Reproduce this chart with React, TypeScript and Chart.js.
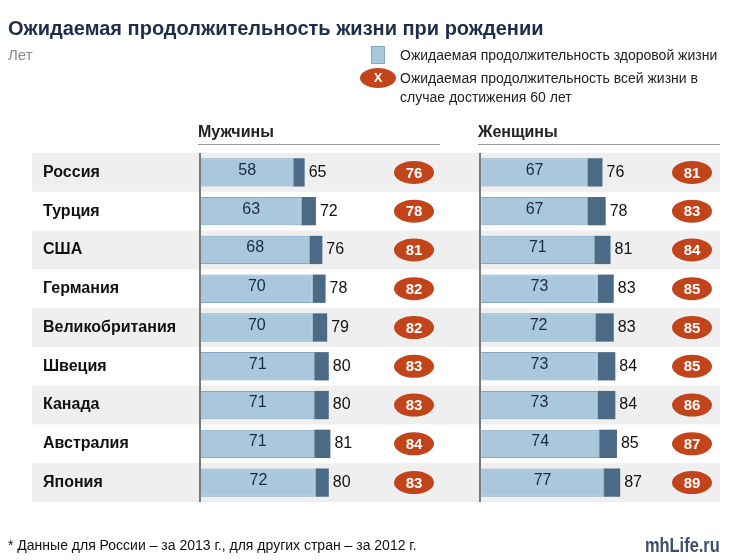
import React, { useEffect, useRef } from "react";
import { Chart, registerables } from "chart.js";
Chart.register(...registerables);

const countries = ["Россия", "Турция", "США", "Германия", "Великобритания", "Швеция", "Канада", "Австралия", "Япония"];
const menHealthy = [58, 63, 68, 70, 70, 71, 71, 71, 72];
const menTotal = [65, 72, 76, 78, 79, 80, 80, 81, 80];
const menAt60 = [76, 78, 81, 82, 82, 83, 83, 84, 83];
const womenHealthy = [67, 67, 71, 73, 72, 73, 73, 74, 77];
const womenTotal = [76, 78, 81, 83, 83, 84, 84, 85, 87];
const womenAt60 = [81, 83, 84, 85, 85, 85, 86, 87, 89];

const FONT = '"Liberation Sans", Arial, sans-serif';
const LIGHT = "#a9c8de";
const LIGHT_BORDER = "#86a8c2";
const DARK = "#4a6a85";
const BADGE = "#c2441b";
const BAND = "#efefef";

function ellipseBadge(ctx: CanvasRenderingContext2D, x: number, y: number, rx: number, ry: number, text: string, size: number) {
  ctx.save();
  ctx.beginPath();
  ctx.ellipse(x, y, rx, ry, 0, 0, Math.PI * 2);
  ctx.fillStyle = BADGE;
  ctx.fill();
  ctx.fillStyle = "#ffffff";
  ctx.font = `bold ${size}px ${FONT}`;
  ctx.textAlign = "center";
  ctx.textBaseline = "middle";
  ctx.fillText(text, x, y + 1);
  ctx.restore();
}

const decorPlugin = {
  id: "decor",
  beforeDraw(chart: any) {
    const ctx = chart.ctx as CanvasRenderingContext2D;
    const y = chart.scales.y;
    const step = y.getPixelForValue(1) - y.getPixelForValue(0);
    ctx.save();
    ctx.fillStyle = BAND;
    countries.forEach((_, i) => {
      if (i % 2 === 0) {
        const c = y.getPixelForValue(i);
        ctx.fillRect(32, c - step / 2, 688, step);
      }
    });
    ctx.restore();
  },
  afterDatasetsDraw(chart: any) {
    const ctx = chart.ctx as CanvasRenderingContext2D;
    ctx.save();
    ctx.textBaseline = "middle";
    const groups = [
      { healthy: 0, rest: 1, healthyVals: menHealthy, totals: menTotal, at60: menAt60, badgeX: 414 },
      { healthy: 2, rest: 3, healthyVals: womenHealthy, totals: womenTotal, at60: womenAt60, badgeX: 692 },
    ];
    groups.forEach((g) => {
      const mh = chart.getDatasetMeta(g.healthy);
      const mr = chart.getDatasetMeta(g.rest);
      mh.data.forEach((el: any, i: number) => {
        const p = el.getProps(["x", "y", "base"], true);
        ctx.font = `16px ${FONT}`;
        ctx.fillStyle = "#1b2a3c";
        ctx.textAlign = "center";
        ctx.fillText(String(g.healthyVals[i]), (p.x + p.base) / 2, p.y - 2);
        const r = mr.data[i].getProps(["x", "y"], true);
        ctx.fillStyle = "#111111";
        ctx.textAlign = "left";
        ctx.fillText(String(g.totals[i]), r.x + 4, r.y);
        ellipseBadge(ctx, g.badgeX, p.y, 20, 11.5, String(g.at60[i]), 15);
      });
    });
    ctx.restore();
  },
};

const axisColor = (c: any) => (c.tick && c.tick.value === 0 ? "#7a7a7a" : "rgba(0,0,0,0)");

export default function App() {
  const ref = useRef<HTMLCanvasElement | null>(null);
  useEffect(() => {
    if (!ref.current) return;
    const menRest = menTotal.map((t, i) => t - menHealthy[i]);
    const womenRest = womenTotal.map((t, i) => t - womenHealthy[i]);
    const chart = new Chart(ref.current, {
      type: "bar",
      data: {
        labels: countries,
        datasets: [
          { data: menHealthy, xAxisID: "xM", stack: "all", backgroundColor: LIGHT, borderColor: LIGHT_BORDER, borderWidth: 1, borderSkipped: "start" },
          { data: menRest, xAxisID: "xM", stack: "all", backgroundColor: DARK, borderWidth: 0 },
          { data: womenHealthy, xAxisID: "xW", stack: "all", backgroundColor: LIGHT, borderColor: LIGHT_BORDER, borderWidth: 1, borderSkipped: "start" },
          { data: womenRest, xAxisID: "xW", stack: "all", backgroundColor: DARK, borderWidth: 0 },
        ],
      },
      options: {
        indexAxis: "y",
        responsive: false,
        animation: false,
        devicePixelRatio: 1,
        categoryPercentage: 1,
        barPercentage: 0.73,
        layout: { padding: { left: 43, top: 153, right: 30, bottom: 58 } },
        plugins: { legend: { display: false }, tooltip: { enabled: false } },
        scales: {
          y: {
            stacked: true,
            afterFit: (s: any) => { s.width = 157; },
            grid: { display: false },
            border: { display: false },
            ticks: { crossAlign: "far", color: "#111111", font: { family: FONT, size: 16, weight: "bold" }, padding: 0 },
          },
          xM: {
            type: "linear", position: "bottom", stacked: true, min: 0, max: 323,
            ticks: { display: false, stepSize: 25 },
            grid: { drawTicks: false, color: axisColor, lineWidth: 2 },
            border: { display: false },
          },
          xW: {
            type: "linear", position: "bottom", stacked: true, min: -174, max: 149,
            ticks: { display: false, stepSize: 1 },
            grid: { drawTicks: false, color: axisColor, lineWidth: 2 },
            border: { display: false },
          },
        },
      } as any,
      plugins: [decorPlugin],
    });
    return () => chart.destroy();
  }, []);

  const abs = (o: React.CSSProperties): React.CSSProperties => ({ position: "absolute", whiteSpace: "nowrap", ...o });

  return (
    <div style={{ position: "fixed", left: 0, top: 0, width: 750, height: 560, background: "#ffffff", fontFamily: FONT, overflow: "hidden" }}>
      <canvas ref={ref} width={750} height={560} style={{ position: "absolute", left: 0, top: 0, width: 750, height: 560 }} />
      <div style={abs({ left: 8, top: 16, fontSize: 20, lineHeight: "24px", fontWeight: "bold", color: "#1f2d4d" })}>Ожидаемая продолжительность жизни при рождении</div>
      <div style={abs({ left: 8, top: 45, fontSize: 15, lineHeight: "20px", color: "#8a8a8a" })}>Лет</div>
      <div style={abs({ left: 371, top: 46, width: 14, height: 18, background: LIGHT, border: `1px solid ${LIGHT_BORDER}`, boxSizing: "border-box" })} />
      <div style={abs({ left: 400, top: 46, fontSize: 14, lineHeight: "18px", color: "#222" })}>Ожидаемая продолжительность здоровой жизни</div>
      <div style={abs({ left: 360, top: 68, width: 36, height: 20, borderRadius: "50%", background: BADGE, color: "#fff", fontWeight: "bold", fontSize: 13, lineHeight: "20px", textAlign: "center" })}>X</div>
      <div style={abs({ left: 400, top: 69, fontSize: 14, lineHeight: "19px", color: "#222", whiteSpace: "normal", width: 320 })}>Ожидаемая продолжительность всей жизни в<br />случае достижения 60 лет</div>
      <div style={abs({ left: 198, top: 122, fontSize: 16, lineHeight: "20px", fontWeight: "bold", color: "#222" })}>Мужчины</div>
      <div style={abs({ left: 198, top: 144, width: 242, height: 1, background: "#9a9a9a" })} />
      <div style={abs({ left: 478, top: 122, fontSize: 16, lineHeight: "20px", fontWeight: "bold", color: "#222" })}>Женщины</div>
      <div style={abs({ left: 478, top: 144, width: 242, height: 1, background: "#9a9a9a" })} />
      <div style={abs({ left: 8, top: 536, fontSize: 14, lineHeight: "18px", color: "#111" })}>* Данные для России – за 2013 г., для других стран – за 2012 г.</div>
      <div style={abs({ left: 645, top: 533, fontSize: 20, lineHeight: "24px", fontWeight: "bold", color: "#3d5068", transform: "scaleX(0.82)", transformOrigin: "left center" })}>mhLife.ru</div>
    </div>
  );
}
